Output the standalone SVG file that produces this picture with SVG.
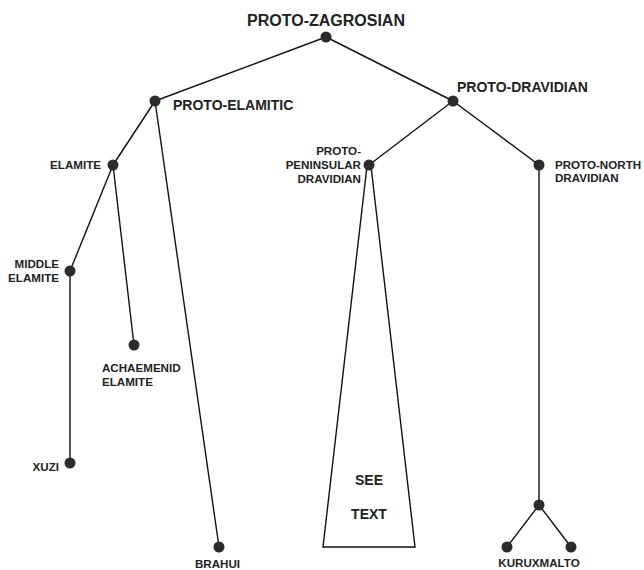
<svg xmlns="http://www.w3.org/2000/svg" width="644" height="570" viewBox="0 0 644 570">
<style>
.e{stroke:#111;stroke-width:1.4;fill:none}
.n{fill:#2b2b2b}
text{font-family:"Liberation Sans",Arial,sans-serif;font-weight:bold;fill:#222}
.big{font-size:16px}
.mid{font-size:14px}
.sm{font-size:11.6px}
</style>
<rect width="644" height="570" fill="#fff"/>
<g id="connectors">
<line class="e" x1="326" y1="37" x2="155" y2="101"/>
<line class="e" x1="326" y1="37" x2="453" y2="101"/>
<line class="e" x1="155" y1="101" x2="113" y2="165"/>
<line class="e" x1="155" y1="101" x2="219" y2="547"/>
<line class="e" x1="113" y1="165" x2="70" y2="271"/>
<line class="e" x1="113" y1="165" x2="134" y2="345"/>
<line class="e" x1="70" y1="271" x2="70" y2="463"/>
<line class="e" x1="453" y1="101" x2="369" y2="165"/>
<line class="e" x1="453" y1="101" x2="539" y2="165"/>
<line class="e" x1="539" y1="165" x2="539" y2="505"/>
<line class="e" x1="539" y1="505" x2="507" y2="547"/>
<line class="e" x1="539" y1="505" x2="571" y2="547"/>
<polygon class="e" points="367,166 371,166 415,547 323,547"/>
</g>
<g id="proto-zagrosian"><circle class="n" cx="326" cy="37" r="5.5"/><text class="big" x="326" y="26" text-anchor="middle">PROTO-ZAGROSIAN</text></g>
<g id="proto-elamitic"><circle class="n" cx="155" cy="101" r="5.5"/><text class="mid" x="173" y="110">PROTO-ELAMITIC</text></g>
<g id="proto-dravidian"><circle class="n" cx="453" cy="101" r="5.5"/><text class="mid" x="457" y="92">PROTO-DRAVIDIAN</text></g>
<g id="elamite"><circle class="n" cx="113" cy="165" r="5.5"/><text class="sm" x="101" y="169" text-anchor="end">ELAMITE</text></g>
<g id="middle-elamite"><circle class="n" cx="70" cy="271" r="5.5"/><text class="sm" text-anchor="end"><tspan x="59" y="268">MIDDLE</tspan><tspan x="59" y="282">ELAMITE</tspan></text></g>
<g id="achaemenid-elamite"><circle class="n" cx="134" cy="345" r="5.5"/><text class="sm"><tspan x="102" y="372">ACHAEMENID</tspan><tspan x="102" y="386">ELAMITE</tspan></text></g>
<g id="xuzi"><circle class="n" cx="70" cy="463" r="5.5"/><text class="sm" x="59" y="471" text-anchor="end">XUZI</text></g>
<g id="brahui"><circle class="n" cx="219" cy="547" r="5.5"/><text class="sm" x="195" y="568">BRAHUI</text></g>
<g id="proto-peninsular-dravidian"><circle class="n" cx="369" cy="165" r="5.5"/><text class="sm" text-anchor="end"><tspan x="361" y="155">PROTO-</tspan><tspan x="361" y="169">PENINSULAR</tspan><tspan x="361" y="183">DRAVIDIAN</tspan></text></g>
<g id="see-text"><text class="mid" x="369" y="485" text-anchor="middle">SEE</text><text class="mid" x="369" y="519" text-anchor="middle">TEXT</text></g>
<g id="proto-north-dravidian"><circle class="n" cx="539" cy="165" r="5.5"/><text class="sm"><tspan x="555" y="169">PROTO-NORTH</tspan><tspan x="555" y="182">DRAVIDIAN</tspan></text></g>
<g id="kurux-malto"><circle class="n" cx="539" cy="505" r="5.5"/><circle class="n" cx="507" cy="547" r="5.5"/><circle class="n" cx="571" cy="547" r="5.5"/><text class="sm" x="539" y="567" text-anchor="middle">KURUXMALTO</text></g>
</svg>
